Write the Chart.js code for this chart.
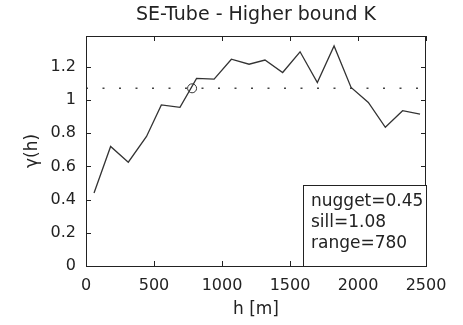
<!DOCTYPE html>
<html>
<head>
<meta charset="utf-8">
<script src="https://cdn.jsdelivr.net/npm/chart.js@4"></script>
<style>
  body { margin: 0; background: #fff; }
  canvas { display: block; }
</style>
</head>
<body>
<canvas id="chart" width="463" height="325"></canvas>
<script>
// experimental variogram points (lag in m, gamma)
var lagH = [59, 181, 311, 445, 554, 691, 813, 942, 1069, 1199, 1316, 1446, 1574, 1701, 1824, 1949, 2076, 2201, 2328, 2456];
var gammaVals = [0.44, 0.72, 0.625, 0.78, 0.97, 0.955, 1.13, 1.125, 1.245, 1.215, 1.24, 1.165, 1.29, 1.105, 1.325, 1.075, 0.985, 0.835, 0.935, 0.915];

// sill line and range marker
var sillX = [0, 2500];
var sillY = [1.07, 1.07];
var rangeX = [780];
var rangeY = [1.07];

var xTicks = [0, 500, 1000, 1500, 2000, 2500];
var yTicks = [0, 0.2, 0.4, 0.6, 0.8, 1, 1.2];
var boxLines = ["nugget=0.45", "sill=1.08", "range=780"];

var FONT = "'DejaVu Sans', sans-serif";

function toPoints(xs, ys) {
    return xs.map(function (x, i) { return { x: x, y: ys[i] }; });
}

// box round the plot with inward ticks on all four sides (matlab style)
var frame = {
    id: 'frame',
    afterDatasetsDraw: function (chart) {
        var ctx = chart.ctx;
        var a = chart.chartArea;
        var xs = chart.scales.x, ys = chart.scales.y;
        var tl = 5;
        ctx.save();
        ctx.strokeStyle = '#222';
        ctx.lineWidth = 1;
        ctx.strokeRect(a.left + 0.5, a.top + 0.5, a.right - a.left - 1, a.bottom - a.top);
        ctx.beginPath();
        xTicks.forEach(function (v) {
            var px = Math.round(xs.getPixelForValue(v)) + 0.5;
            ctx.moveTo(px, a.bottom); ctx.lineTo(px, a.bottom - tl);
            ctx.moveTo(px, a.top); ctx.lineTo(px, a.top + tl);
        });
        yTicks.forEach(function (v) {
            var py = Math.round(ys.getPixelForValue(v)) + 0.5;
            ctx.moveTo(a.left, py); ctx.lineTo(a.left + tl, py);
            ctx.moveTo(a.right, py); ctx.lineTo(a.right - tl, py);
        });
        ctx.stroke();

        // text box in the lower right corner
        var bw = 123, bh = 81;
        var bx = a.right - bw, by = a.bottom - bh;
        ctx.fillStyle = '#fff';
        ctx.fillRect(bx, by, bw, bh);
        ctx.strokeStyle = '#222';
        ctx.strokeRect(bx + 0.5, by + 0.5, bw, bh);
        ctx.fillStyle = '#222';
        ctx.font = '17px ' + FONT;
        ctx.textBaseline = 'alphabetic';
        ctx.textAlign = 'left';
        boxLines.forEach(function (t, i) {
            ctx.fillText(t, bx + 8, by + 21 + i * 20.8);
        });
        ctx.restore();
    }
};

window.onload = function () {
    var ctx = document.getElementById('chart').getContext('2d');
    new Chart(ctx, {
        type: 'scatter',
        data: {
            datasets: [{
                data: toPoints(lagH, gammaVals),
                showLine: true,
                borderColor: '#333',
                borderWidth: 1.3,
                pointRadius: 0,
                tension: 0
            }, {
                data: toPoints(sillX, sillY),
                showLine: true,
                borderColor: '#444',
                borderWidth: 1.6,
                borderDash: [2, 14.5],
                pointRadius: 0
            }, {
                data: toPoints(rangeX, rangeY),
                showLine: false,
                pointStyle: 'circle',
                pointRadius: 4.5,
                borderColor: '#333',
                borderWidth: 1,
                backgroundColor: 'rgba(0,0,0,0)'
            }]
        },
        options: {
            responsive: false,
            animation: false,
            layout: { padding: { left: 0, right: 37, top: 0, bottom: 0 } },
            plugins: {
                legend: { display: false },
                tooltip: { enabled: false },
                title: {
                    display: true,
                    text: 'SE-Tube - Higher bound K',
                    fullSize: false,
                    color: '#222',
                    font: { family: FONT, size: 19, weight: 'normal' },
                    padding: { top: 4, bottom: 9.2 }
                }
            },
            scales: {
                x: {
                    type: 'linear',
                    min: 0,
                    max: 2500,
                    afterFit: function (s) { s.height = 59; },
                    afterBuildTicks: function (s) {
                        s.ticks = xTicks.map(function (v) { return { value: v }; });
                    },
                    grid: { display: false, drawTicks: false },
                    border: { display: false },
                    ticks: {
                        color: '#222',
                        padding: 10,
                        maxRotation: 0,
                        font: { family: FONT, size: 16 },
                        callback: function (v) { return String(v); }
                    },
                    title: {
                        display: true,
                        text: 'h [m]',
                        color: '#222',
                        font: { family: FONT, size: 17 },
                        padding: { top: 0, bottom: 5 }
                    }
                },
                y: {
                    type: 'linear',
                    min: 0,
                    max: 1.385,
                    afterFit: function (s) { s.width = 86; },
                    afterBuildTicks: function (s) {
                        s.ticks = yTicks.map(function (v) { return { value: v }; });
                    },
                    grid: { display: false, drawTicks: false },
                    border: { display: false },
                    ticks: {
                        color: '#222',
                        padding: 10,
                        font: { family: FONT, size: 16 },
                        callback: function (v) { return String(Math.round(v * 10) / 10); }
                    },
                    title: {
                        display: true,
                        text: 'γ(h)',
                        color: '#222',
                        font: { family: FONT, size: 17 },
                        padding: { top: 22, bottom: 0 }
                    }
                }
            }
        },
        plugins: [frame]
    });
};
</script>
</body>
</html>
